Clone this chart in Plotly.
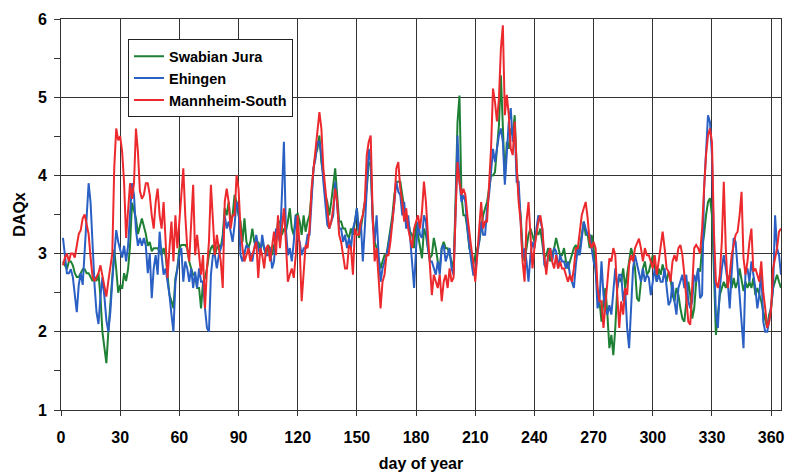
import plotly.graph_objects as go

# ---------------- data ----------------
swabian_jura = [
    2.9, 2.85, 2.8, 2.9, 2.9, 2.85, 2.75, 2.7, 2.7, 2.75, 2.8, 2.8, 2.75, 2.75, 2.7, 2.65, 2.7, 2.65, 2.75, 2.45,
    2.0, 1.8, 1.6, 2.0, 2.35, 2.6, 3.05, 2.8, 2.5, 2.6, 2.55, 2.75, 2.65, 2.8, 3.1, 3.65, 3.55, 3.45, 3.25, 3.35,
    3.45, 3.35, 3.25, 3.1, 3.15,
    3.03, 3.07, 3.07, 3.07, 3.03, 2.98, 3.07, 2.98, 2.73, 2.47, 2.39, 2.3, 2.69, 2.81, 3.07, 3.11, 3.11, 3.11, 3.07, 2.9,
    2.81, 2.73, 2.73, 2.56, 2.56, 2.3, 2.64, 2.69, 2.81, 2.98, 3.07, 3.11, 2.98, 3.07, 3.11, 3.07, 3.24, 3.58, 3.49, 3.66,
    3.41, 3.49, 3.75, 3.66, 3.49,
    3.41, 3.15, 3.45, 3.15, 3.07, 3.15, 3.32, 3.15, 3.09, 3.15, 3.07, 3.15, 3.07, 2.98, 3.11, 3.07, 2.98, 3.11, 3.15, 3.41,
    3.41, 3.24, 3.32, 3.28, 3.41, 3.58, 3.32, 3.24, 3.49, 3.51, 3.41, 3.24, 3.49, 3.28, 3.41, 3.49, 3.75, 4.09, 4.26, 4.34,
    4.51, 4.17, 4.0, 3.75, 3.66,
    3.49, 3.66, 3.92, 4.09, 3.75, 3.41, 3.41, 3.32, 3.32, 3.24, 3.2, 3.32, 3.24, 3.41, 3.58, 3.2, 3.32, 3.49, 3.66, 3.83,
    4.17, 4.13, 3.49, 3.15, 3.07, 2.94, 2.81, 2.9, 2.98, 2.98, 3.15, 3.32, 3.49, 3.75, 3.92, 3.92, 3.92, 3.75, 3.58, 3.49,
    3.41, 3.28, 3.24, 3.07, 3.41,
    3.24, 3.07, 2.94, 3.32, 3.24, 3.07, 2.94, 2.98, 3.2, 3.07, 2.9, 2.81, 3.07, 3.15, 3.07, 3.07, 2.98, 2.9, 2.81, 3.66,
    4.68, 5.02, 3.75, 3.49, 3.49, 3.32, 3.07, 2.98, 2.86, 2.98, 3.07, 3.15, 3.32, 3.49, 3.58, 3.66, 3.83, 4.0, 4.0, 4.04,
    4.34, 4.64, 5.28, 4.51, 3.96,
    4.43, 4.34, 4.6, 4.51, 4.77, 4.09, 3.75, 3.49, 3.07, 2.9, 3.07, 3.24, 3.32, 3.24, 3.15, 3.28, 3.24, 3.32, 3.15, 2.94,
    2.98, 3.07, 2.9, 2.98, 3.07, 3.2, 3.07, 2.98, 2.98, 3.07, 2.9, 2.81, 2.9, 2.98, 3.07, 3.11, 2.98, 3.07, 3.24, 3.41,
    3.24, 3.24, 3.07, 3.24, 3.07,
    2.73, 2.52, 2.39, 2.13, 2.39, 2.56, 2.22, 1.79, 1.96, 1.7, 2.05, 2.56, 2.69, 2.64, 2.81, 2.56, 2.73, 2.9, 3.07, 2.98,
    2.81, 2.43, 2.39, 2.64, 2.81, 2.9, 2.73, 2.77, 2.9, 2.98, 2.81, 2.64, 2.81, 2.73, 2.86, 2.73, 2.64, 2.77, 2.69, 2.47,
    2.39, 2.56, 2.47, 2.3, 2.17,
    2.13, 2.39, 2.64, 2.47, 2.17, 2.3, 2.64, 2.81, 2.77, 3.07, 3.24, 3.49, 3.66, 3.71, 3.49, 2.77, 1.96, 2.22, 2.47, 2.56,
    2.64, 2.56, 2.64, 2.73, 2.56, 2.69, 2.56, 2.64, 2.81, 2.64, 2.52, 2.64, 2.56, 2.64, 2.56, 2.69, 2.47, 2.56, 2.47, 2.39,
    2.26, 2.13, 2.05, 2.22, 2.3, 2.56, 2.64, 2.73, 2.64, 2.56,
]

ehingen = [
    3.2, 2.95, 2.75, 2.75, 2.8, 2.7, 2.5, 2.25, 2.6, 2.75, 2.6, 3.0, 3.5, 3.9, 3.65, 3.05, 2.6, 2.25, 2.1, 2.45,
    2.7, 2.45, 2.15, 2.0, 2.25, 2.65, 3.05, 3.3, 3.15, 3.05, 2.95, 3.1, 2.9, 3.1, 3.5, 3.9, 3.75, 3.3, 3.1, 3.2,
    3.1, 3.2, 3.1, 2.75, 3.0,
    2.43, 2.81, 2.98, 2.73, 3.28, 2.98, 2.73, 2.81, 2.64, 2.47, 2.22, 2.0, 2.64, 2.81, 2.98, 3.07, 2.64, 2.9, 2.81, 2.64,
    2.81, 2.56, 2.77, 2.56, 2.81, 2.64, 2.64, 2.3, 2.05, 2.0, 2.73, 2.98, 2.98, 2.81, 2.98, 3.07, 3.15, 3.49, 3.32, 3.41,
    3.28, 3.15, 3.37, 3.66, 3.58,
    2.98, 2.9, 3.02, 3.11, 3.07, 2.98, 2.9, 3.07, 3.24, 3.07, 2.98, 3.24, 3.07, 2.98, 2.98, 3.07, 2.81, 2.9, 3.32, 3.24,
    3.15, 3.75, 4.43, 3.32, 2.98, 3.07, 2.9, 3.15, 3.49, 3.2, 3.15, 2.98, 3.07, 3.07, 3.24, 3.24, 3.66, 4.09, 4.21, 4.43,
    4.43, 4.26, 3.92, 3.66, 3.37,
    3.32, 3.41, 3.49, 3.92, 3.58, 3.32, 3.32, 3.15, 3.24, 3.07, 3.2, 3.07, 3.32, 3.41, 3.58, 3.28, 3.41, 2.9, 3.32, 3.75,
    4.34, 4.17, 3.41, 3.15, 3.49, 2.98, 2.64, 2.81, 2.9, 2.98, 3.11, 3.24, 3.41, 3.66, 3.92, 3.79, 3.75, 3.49, 3.66, 3.32,
    3.49, 3.2, 2.81, 2.56, 3.07,
    3.41, 3.24, 3.2, 3.49, 3.41, 3.07, 2.9, 2.9, 2.81, 2.73, 2.9, 2.73, 3.07, 3.11, 2.9, 2.98, 3.07, 2.81, 2.73, 3.49,
    4.51, 3.92, 3.66, 3.75, 3.66, 3.32, 3.07, 2.9, 2.73, 2.73, 2.98, 3.15, 3.41, 3.24, 3.24, 3.58, 3.75, 4.0, 4.34, 4.17,
    4.34, 4.51, 4.6, 4.43, 3.88,
    4.34, 4.68, 4.86, 4.43, 4.6, 3.92, 3.92, 3.41, 2.94, 3.07, 2.9, 2.64, 2.98, 3.15, 3.07, 3.32, 3.49, 3.41, 3.32, 2.86,
    2.81, 2.98, 3.07, 2.9, 3.07, 3.03, 2.81, 2.98, 2.9, 2.9, 2.81, 2.9, 2.73, 2.64, 2.56, 2.86, 3.07, 2.98, 3.24, 3.41,
    3.32, 3.24, 3.24, 3.07, 2.9,
    2.81, 2.3, 2.39, 2.9, 2.47, 2.3, 2.22, 2.34, 2.22, 2.56, 2.81, 2.56, 2.73, 2.73, 2.39, 2.56, 2.05, 1.79, 2.3, 2.81,
    2.98, 2.86, 2.73, 2.64, 2.81, 2.64, 2.73, 2.69, 2.47, 2.64, 2.81, 2.64, 2.73, 2.64, 2.64, 2.81, 2.56, 2.34, 2.39, 2.64,
    2.39, 2.22, 2.56, 2.64, 2.73,
    2.56, 2.73, 2.39, 2.3, 2.39, 2.73, 2.64, 2.81, 2.43, 2.47, 3.83, 4.34, 4.77, 4.68, 4.26, 3.02, 2.22, 2.05, 2.56, 2.81,
    2.98, 2.81, 2.64, 2.3, 2.73, 3.2, 3.15, 2.81, 2.47, 2.13, 1.79, 2.77, 2.81, 2.64, 2.9, 2.73, 2.56, 2.3, 2.47, 2.81,
    2.13, 2.0, 2.0, 2.13, 2.39, 2.56, 3.49, 3.07, 2.98, 2.73,
]

mannheim_south = [
    2.85, 2.95, 3.0, 2.9, 3.0, 3.0, 2.95, 3.1, 3.25, 3.3, 3.45, 3.5, 3.35, 3.25, 2.95, 2.7, 2.65, 2.7, 2.75, 2.85,
    2.7, 2.6, 2.45, 2.65, 2.8, 3.0, 4.1, 4.6, 4.45, 4.5, 4.3, 3.9, 3.2, 3.5, 3.9, 3.7, 3.9, 4.6, 4.3, 3.8,
    3.7, 3.75, 3.9, 3.9, 3.75,
    3.49, 3.32, 3.66, 3.83, 3.49, 3.32, 3.66, 3.07, 2.69, 3.07, 3.41, 2.9, 3.49, 3.07, 3.41, 3.66, 4.09, 3.49, 3.07, 2.9,
    3.49, 3.88, 2.98, 3.24, 2.98, 2.73, 2.98, 2.3, 2.81, 3.15, 3.88, 3.41, 2.98, 3.24, 3.07, 2.9, 2.56, 3.66, 3.83, 3.66,
    3.32, 3.49, 3.49, 4.0, 3.83,
    3.32, 3.07, 2.9, 2.98, 3.07, 2.9, 2.98, 3.07, 3.15, 2.69, 3.07, 2.98, 2.81, 3.07, 3.11, 2.9, 3.07, 3.28, 2.98, 3.49,
    3.07, 3.32, 3.58, 3.15, 2.64, 2.73, 2.81, 2.69, 2.98, 3.49, 3.07, 2.39, 2.81, 3.11, 3.07, 3.32, 3.83, 4.09, 4.34, 4.64,
    4.81, 4.6, 4.09, 3.83, 3.54,
    3.32, 3.41, 3.58, 3.83, 3.66, 3.24, 3.15, 2.98, 2.81, 2.81, 3.11, 3.07, 2.73, 3.32, 3.24, 3.24, 3.41, 3.49, 3.66, 4.26,
    4.43, 4.51, 3.49, 2.9, 3.07, 2.69, 2.3, 2.64, 2.73, 2.98, 2.98, 3.15, 3.41, 3.66, 4.09, 4.17, 3.83, 3.66, 3.41, 3.58,
    3.32, 3.2, 3.07, 3.32, 3.41,
    3.49, 3.32, 3.54, 3.92, 3.66, 3.24, 2.86, 2.47, 2.73, 2.64, 2.56, 2.73, 2.39, 2.64, 2.73, 2.56, 2.81, 2.64, 2.69, 3.49,
    4.17, 3.92, 3.75, 3.83, 3.75, 3.49, 3.24, 3.07, 2.9, 2.64, 2.98, 3.32, 3.66, 3.32, 3.41, 3.41, 3.83, 4.34, 5.11, 4.94,
    4.69, 4.98, 5.62, 5.92, 4.77,
    5.03, 4.77, 4.34, 4.26, 4.69, 4.13, 3.66, 3.41, 2.9, 2.64, 3.41, 3.66, 3.24, 2.81, 3.07, 3.24, 3.41, 3.49, 3.32, 2.98,
    2.73, 2.98, 3.07, 2.9, 2.81, 2.98, 2.81, 2.9, 2.81, 2.81, 2.73, 2.64, 2.73, 2.64, 2.81, 3.07, 3.07, 3.32, 3.49, 3.58,
    3.66, 3.45, 3.15, 3.07, 3.15,
    3.07, 2.56, 2.39, 2.39, 2.05, 2.39, 2.64, 2.94, 2.9, 3.07, 2.98, 2.47, 2.05, 2.39, 2.22, 2.56, 2.47, 2.86, 2.98, 2.9,
    3.07, 3.13, 3.19, 3.07, 2.9, 3.07, 2.98, 2.98, 2.9, 2.81, 2.98, 2.73, 2.9, 3.07, 3.28, 3.07, 2.81, 2.77, 2.64, 2.9,
    2.98, 2.9, 3.07, 3.11, 2.98,
    2.73, 2.47, 2.13, 2.09, 2.56, 3.07, 3.11, 3.07, 3.0, 3.32, 3.83, 4.26, 4.51, 4.6, 4.43, 3.28, 2.64, 2.56, 2.73, 3.15,
    3.92, 3.07, 2.56, 2.73, 2.98, 3.11, 3.24, 3.28, 3.49, 3.79, 2.94, 2.73, 2.9, 3.15, 3.32, 2.77, 2.81, 2.73, 2.64, 2.9,
    2.51, 2.3, 2.05, 2.13, 2.3, 2.81, 2.94, 3.07, 3.28, 3.32,
]

series_names = ["Swabian Jura", "Ehingen", "Mannheim-South"]
series_values = [swabian_jura, ehingen, mannheim_south]
series_colors = ["#1d8034", "#2a5fc4", "#ec2a2e"]

x_tick_values = [0, 30, 60, 90, 120, 150, 180, 210, 240, 270, 300, 330, 360]
y_tick_values = [1, 2, 3, 4, 5, 6]

# ---------------- figure ----------------
fig = go.Figure()
for name, vals, col in zip(series_names, series_values, series_colors):
    days = list(range(1, len(vals) + 1))
    fig.add_trace(go.Scatter(
        x=days, y=vals, mode="lines", name=name,
        line=dict(color=col, width=2),
    ))

base_font = "Liberation Sans, Arial, sans-serif"

fig.update_layout(
    width=790, height=475,
    margin=dict(l=61, r=5, t=19, b=65),
    paper_bgcolor="white", plot_bgcolor="white",
    font=dict(family=base_font, color="black"),
    showlegend=True,
    legend=dict(
        x=0.093, y=0.948, xanchor="left", yanchor="top",
        bgcolor="white", bordercolor="#222", borderwidth=1,
        font=dict(size=14.5, family=base_font, weight="bold"),
        itemwidth=30, tracegroupgap=0,
    ),
)

fig.update_xaxes(
    range=[0, 365], tickvals=x_tick_values,
    showgrid=True, gridcolor="#333", gridwidth=1,
    showline=True, linecolor="#333", linewidth=1, mirror=True,
    ticks="outside", ticklen=5, tickcolor="#333",
    ticklabelstandoff=8,
    tickfont=dict(size=16, family=base_font, weight="bold"),
    title=dict(text="day of year", standoff=12,
               font=dict(size=16, family=base_font, weight="bold")),
    zeroline=False,
)
fig.update_yaxes(
    range=[1, 6], tickvals=y_tick_values,
    showgrid=True, gridcolor="#333", gridwidth=1,
    showline=True, linecolor="#333", linewidth=1, mirror=True,
    ticks="outside", ticklen=6, tickcolor="#333",
    ticklabelstandoff=4,
    minor=dict(dtick=0.5, ticks="outside", ticklen=6, tickcolor="#333", showgrid=False),
    tickfont=dict(size=16, family=base_font, weight="bold"),
    title=dict(text="DAQx", standoff=8, font=dict(size=16, family=base_font, weight="bold")),
    zeroline=False,
)

fig.write_html("out.html")
